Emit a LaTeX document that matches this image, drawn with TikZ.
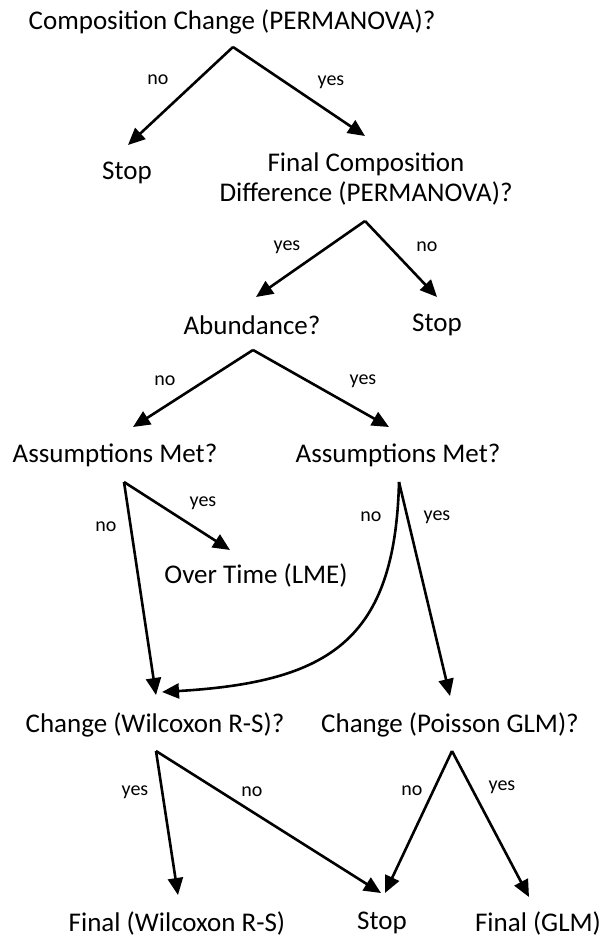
\documentclass[tikz,border=0pt]{standalone}
\usepackage{fontspec}
\setmainfont{Carlito}
\usetikzlibrary{arrows.meta}
\begin{document}
\begin{tikzpicture}[x=1pt,y=-1pt,
  txt/.style={font=\fontsize{27}{32}\selectfont, inner sep=0pt, align=center},
  lbl/.style={font=\fontsize{20}{24}\selectfont, inner sep=0pt},
  arr/.style={line width=2.6pt, -{Triangle[length=17pt,width=15pt]}, line join=miter}]
\useasboundingbox (0,0) rectangle (601,937);
% text nodes
\node[txt] (t1) at (232,22) {Composition Change (PERMANOVA)?};
\node[txt] (s1) at (127,173) {Stop};
\node[txt] (t2) at (366,179) {Final Composition\\[-2pt]Difference (PERMANOVA)?};
\node[txt] (ab) at (252,325) {Abundance?};
\node[txt] (s2) at (437,325) {Stop};
\node[txt] (am1) at (115,455) {Assumptions Met?};
\node[txt] (am2) at (398,455) {Assumptions Met?};
\node[txt] (ot) at (256,575) {Over Time (LME)};
\node[txt] (cw) at (155,725) {Change (Wilcoxon R-S)?};
\node[txt] (cp) at (450,725) {Change (Poisson GLM)?};
\node[txt] (fw) at (177,923) {Final (Wilcoxon R-S)};
\node[txt] (s3) at (382,923) {Stop};
\node[txt] (fg) at (538,923) {Final (GLM)};
% apex / tip coordinates
\coordinate (a1) at (233,47);
\coordinate (a1l) at (128,145);
\coordinate (a1r) at (365,136);
\coordinate (a2) at (365,221);
\coordinate (a2l) at (256,297);
\coordinate (a2r) at (437,297);
\coordinate (a3) at (253,350);
\coordinate (a3l) at (133,427);
\coordinate (a3r) at (389,427);
\coordinate (a4) at (124,482);
\coordinate (a4r) at (230,550);
\coordinate (a4d) at (156,695);
\coordinate (a5) at (399,482);
\coordinate (a5c) at (162,692);
\coordinate (a5d) at (450,696);
\coordinate (a6) at (156,751);
\coordinate (a6l) at (178,895);
\coordinate (a6r) at (381,893);
\coordinate (a7) at (452,751);
\coordinate (a7l) at (385,893);
\coordinate (a7r) at (529,897);
% connectors
\draw[arr] (a1) -- (a1l);
\draw[arr] (a1) -- (a1r);
\draw[arr] (a2) -- (a2l);
\draw[arr] (a2) -- (a2r);
\draw[arr] (a3) -- (a3l);
\draw[arr] (a3) -- (a3r);
\draw[arr] (a4) -- (a4r);
\draw[arr] (a4) -- (a4d);
\draw[arr] (a5) .. controls (395,640) and (330,682) .. (a5c);
\draw[arr] (a5) -- (a5d);
\draw[arr] (a6) -- (a6l);
\draw[arr] (a6) -- (a6r);
\draw[arr] (a7) -- (a7l);
\draw[arr] (a7) -- (a7r);
% labels
\node[lbl] (l1) at (158,80) {no};
\node[lbl] (l2) at (331,82) {yes};
\node[lbl] (l3) at (287,247) {yes};
\node[lbl] (l4) at (427,247) {no};
\node[lbl] (l5) at (165,381) {no};
\node[lbl] (l6) at (363,381) {yes};
\node[lbl] (l7) at (203,503) {yes};
\node[lbl] (l8) at (106,527) {no};
\node[lbl] (l9) at (371,517) {no};
\node[lbl] (l10) at (437,517) {yes};
\node[lbl] (l11) at (135,792) {yes};
\node[lbl] (l12) at (252,792) {no};
\node[lbl] (l13) at (412,791) {no};
\node[lbl] (l14) at (502,787) {yes};
\end{tikzpicture}
\end{document}
